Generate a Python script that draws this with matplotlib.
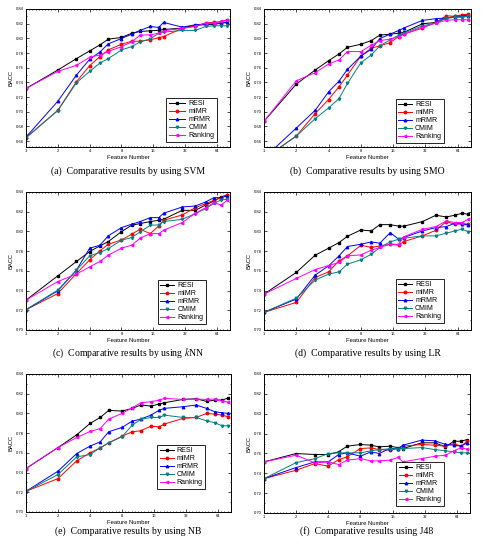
import matplotlib
matplotlib.use("Agg")
import matplotlib.pyplot as plt
import matplotlib.ticker as mticker
import numpy as np

plt.rcParams['font.family'] = ['Liberation Sans', 'DejaVu Sans']
plt.rcParams['mathtext.fontset'] = 'stix'

# number of selected features (x positions of the points)
features = [1, 2, 3, 4, 5, 6, 8, 10, 12, 15, 18, 20, 30, 40, 50, 60, 70, 80]

methods = ['RESI', 'mIMR', 'mRMR', 'CMIM', 'Ranking']

# (a) SVM
svm_resi = [0.7317, 0.7569, 0.7724, 0.7829, 0.7911, 0.7989, 0.8012, 0.8070, 0.8094, 0.8103, 0.8110, 0.8121, 0.8140, 0.8180, 0.8185, 0.8190, 0.8208, 0.8220]
svm_mimr = [0.6646, 0.7020, 0.7409, 0.7628, 0.7751, 0.7843, 0.7920, 0.7961, 0.7960, 0.7980, 0.8010, 0.8025, 0.8135, 0.8170, 0.8208, 0.8220, 0.8226, 0.8254]
svm_mrmr = [0.6655, 0.7144, 0.7500, 0.7715, 0.7815, 0.7925, 0.7998, 0.8057, 0.8108, 0.8162, 0.8149, 0.8217, 0.8153, 0.8185, 0.8194, 0.8199, 0.8208, 0.8217]
svm_cmim = [0.6646, 0.7016, 0.7395, 0.7550, 0.7664, 0.7724, 0.7843, 0.7888, 0.7952, 0.7993, 0.8070, 0.8085, 0.8108, 0.8108, 0.8162, 0.8172, 0.8172, 0.8170]
svm_rank = [0.7317, 0.7550, 0.7633, 0.7742, 0.7774, 0.7820, 0.7888, 0.7952, 0.8044, 0.8048, 0.8070, 0.8103, 0.8135, 0.8162, 0.8208, 0.8208, 0.8230, 0.8245]

# (b) SMO
smo_resi = [0.6870, 0.7377, 0.7569, 0.7696, 0.7788, 0.7879, 0.7920, 0.7970, 0.8044, 0.8057, 0.8070, 0.8080, 0.8199, 0.8217, 0.8277, 0.8300, 0.8309, 0.8322]
smo_mimr = [0.6360, 0.6670, 0.6975, 0.7167, 0.7340, 0.7500, 0.7760, 0.7866, 0.7898, 0.7943, 0.8025, 0.8057, 0.8140, 0.8217, 0.8309, 0.8300, 0.8322, 0.8327]
smo_mrmr = [0.6370, 0.6778, 0.7020, 0.7272, 0.7418, 0.7578, 0.7760, 0.7852, 0.7998, 0.8057, 0.8108, 0.8140, 0.8245, 0.8268, 0.8277, 0.8286, 0.8300, 0.8309]
smo_cmim = [0.6360, 0.6670, 0.6906, 0.7052, 0.7180, 0.7386, 0.7669, 0.7774, 0.7898, 0.7980, 0.8044, 0.8070, 0.8172, 0.8208, 0.8277, 0.8286, 0.8290, 0.8300]
smo_rank = [0.6870, 0.7422, 0.7532, 0.7651, 0.7706, 0.7820, 0.7820, 0.7907, 0.7970, 0.7989, 0.8025, 0.8057, 0.8153, 0.8208, 0.8245, 0.8254, 0.8254, 0.8254]

# (c) kNN
knn_resi = [0.7303, 0.7550, 0.7695, 0.7796, 0.7853, 0.7897, 0.7998, 0.8063, 0.8080, 0.8100, 0.8113, 0.8123, 0.8214, 0.8214, 0.8268, 0.8309, 0.8350, 0.8370]
knn_mimr = [0.7206, 0.7370, 0.7573, 0.7712, 0.7803, 0.7870, 0.7914, 0.7972, 0.8022, 0.7978, 0.8056, 0.8113, 0.8167, 0.8241, 0.8282, 0.8316, 0.8343, 0.8370]
knn_mrmr = [0.7206, 0.7398, 0.7607, 0.7830, 0.7860, 0.7955, 0.8039, 0.8073, 0.8100, 0.8140, 0.8140, 0.8184, 0.8248, 0.8258, 0.8299, 0.8343, 0.8343, 0.8360]
knn_cmim = [0.7206, 0.7405, 0.7607, 0.7752, 0.7786, 0.7826, 0.7911, 0.7938, 0.7995, 0.8063, 0.8066, 0.8100, 0.8123, 0.8181, 0.8231, 0.8285, 0.8319, 0.8326]
knn_rank = [0.7303, 0.7492, 0.7567, 0.7641, 0.7695, 0.7759, 0.7830, 0.7860, 0.7931, 0.7978, 0.7978, 0.8012, 0.8090, 0.8184, 0.8241, 0.8292, 0.8268, 0.8316]

# (d) LR
lr_resi = [0.7364, 0.7584, 0.7759, 0.7830, 0.7887, 0.7951, 0.8015, 0.8005, 0.8069, 0.8069, 0.8053, 0.8053, 0.8100, 0.8164, 0.8147, 0.8164, 0.8184, 0.8174]
lr_mimr = [0.7179, 0.7280, 0.7533, 0.7590, 0.7702, 0.7752, 0.7860, 0.7837, 0.7853, 0.7870, 0.7860, 0.7897, 0.7955, 0.8012, 0.8100, 0.8073, 0.8080, 0.8073]
lr_mrmr = [0.7179, 0.7314, 0.7557, 0.7651, 0.7752, 0.7847, 0.7870, 0.7894, 0.7880, 0.7988, 0.7921, 0.7938, 0.8005, 0.8039, 0.8049, 0.8083, 0.8073, 0.8066]
lr_cmim = [0.7179, 0.7324, 0.7506, 0.7567, 0.7590, 0.7668, 0.7712, 0.7769, 0.7837, 0.7894, 0.7921, 0.7931, 0.7955, 0.7955, 0.7982, 0.8005, 0.8022, 0.7998]
lr_rank = [0.7364, 0.7523, 0.7613, 0.7654, 0.7685, 0.7752, 0.7762, 0.7810, 0.7837, 0.7870, 0.7870, 0.7945, 0.8022, 0.8049, 0.8106, 0.8090, 0.8090, 0.8123]

# (e) NB
nb_resi = [0.7441, 0.7654, 0.7783, 0.7898, 0.7959, 0.8031, 0.8024, 0.8051, 0.8085, 0.8075, 0.8095, 0.8108, 0.8142, 0.8149, 0.8122, 0.8136, 0.8136, 0.8156]
nb_mimr = [0.7210, 0.7339, 0.7519, 0.7600, 0.7651, 0.7702, 0.7769, 0.7814, 0.7824, 0.7871, 0.7864, 0.7892, 0.7949, 0.7959, 0.8000, 0.7993, 0.7983, 0.7966]
nb_mrmr = [0.7210, 0.7414, 0.7593, 0.7668, 0.7712, 0.7814, 0.7858, 0.7922, 0.7942, 0.7983, 0.8034, 0.8051, 0.8068, 0.8085, 0.8051, 0.8017, 0.8007, 0.8000]
nb_cmim = [0.7210, 0.7380, 0.7559, 0.7583, 0.7651, 0.7702, 0.7763, 0.7881, 0.7939, 0.7959, 0.7959, 0.7983, 0.7959, 0.7959, 0.7925, 0.7905, 0.7875, 0.7875]
nb_rank = [0.7441, 0.7654, 0.7756, 0.7817, 0.7847, 0.7942, 0.8000, 0.8058, 0.8108, 0.8119, 0.8136, 0.8153, 0.8142, 0.8146, 0.8142, 0.8146, 0.8125, 0.8115]

# (f) J48
j48_resi = [0.7515, 0.7599, 0.7589, 0.7589, 0.7616, 0.7673, 0.7690, 0.7683, 0.7666, 0.7673, 0.7659, 0.7649, 0.7707, 0.7707, 0.7666, 0.7723, 0.7723, 0.7740]
j48_mimr = [0.7346, 0.7431, 0.7498, 0.7471, 0.7538, 0.7565, 0.7649, 0.7656, 0.7639, 0.7633, 0.7649, 0.7673, 0.7690, 0.7683, 0.7673, 0.7700, 0.7673, 0.7723]
j48_mrmr = [0.7346, 0.7458, 0.7515, 0.7515, 0.7589, 0.7606, 0.7572, 0.7616, 0.7599, 0.7649, 0.7649, 0.7683, 0.7734, 0.7727, 0.7690, 0.7683, 0.7673, 0.7707]
j48_cmim = [0.7346, 0.7508, 0.7548, 0.7599, 0.7606, 0.7606, 0.7606, 0.7626, 0.7639, 0.7646, 0.7649, 0.7649, 0.7659, 0.7639, 0.7626, 0.7616, 0.7606, 0.7606]
j48_rank = [0.7515, 0.7582, 0.7505, 0.7515, 0.7488, 0.7532, 0.7548, 0.7525, 0.7525, 0.7532, 0.7559, 0.7515, 0.7548, 0.7572, 0.7582, 0.7626, 0.7656, 0.7643]

colors = ['#000000', '#ff0000', '#0000ff', '#008080', '#ff00ff']
markers = ['s', 'o', '^', 'v', '<']

panels = [
    ('(a)  Comparative results by using SVM', [svm_resi, svm_mimr, svm_mrmr, svm_cmim, svm_rank], (0.652, 0.84), 0.941, 0.029),
    ('(b)  Comparative results by using SMO', [smo_resi, smo_mimr, smo_mrmr, smo_cmim, smo_rank], (0.652, 0.84), 0.874, 0.022),
    ('(c)  Comparative results by using $k$NN', [knn_resi, knn_mimr, knn_mrmr, knn_cmim, knn_rank], (0.70, 0.84), 0.887, 0.036),
    ('(d)  Comparative results by using LR', [lr_resi, lr_mimr, lr_mrmr, lr_cmim, lr_rank], (0.70, 0.84), 0.874, 0.043),
    ('(e)  Comparative results by using NB', [nb_resi, nb_mimr, nb_mrmr, nb_cmim, nb_rank], (0.70, 0.84), 0.879, 0.16),
    ('(f)  Comparative results using J48', [j48_resi, j48_mimr, j48_mrmr, j48_cmim, j48_rank], (0.70, 0.84), 0.879, 0.043),
]

W, H = 482, 546
fig = plt.figure(figsize=(W / 100, H / 100), dpi=100)

# axes boxes in pixels: left, right, top, bottom
boxes = [(26, 230, 9, 147), (264, 471, 9, 147),
         (26, 230, 192, 330), (264, 471, 192, 330),
         (26, 231, 374, 512), (264, 470, 374, 513)]
caption_y = [171, 171, 353, 353, 531, 531]

for i, (caption, series, ylim, lx, ly) in enumerate(panels):
    l, r, t, b = boxes[i]
    ax = fig.add_axes([l / W, 1 - b / H, (r - l) / W, (b - t) / H])
    for vals, name, c, m in zip(series, methods, colors, markers):
        ax.plot(features, vals, color=c, marker=m, markersize=1.8, linewidth=0.7,
                label=name)
    ax.set_xscale('log', base=2)
    ax.set_xlim(1, 85)
    ax.set_ylim(*ylim)
    ax.xaxis.set_major_locator(mticker.FixedLocator([1, 2, 4, 8, 16, 32, 64]))
    ax.xaxis.set_major_formatter(mticker.FixedFormatter(['1', '2', '4', '8', '16', '32', '64']))
    minor = [2 ** v for v in np.arange(0, 6.45, 0.1) if abs(v - round(v)) > 0.01]
    ax.xaxis.set_minor_locator(mticker.FixedLocator(minor))
    ax.xaxis.set_minor_formatter(mticker.NullFormatter())
    ax.yaxis.set_major_locator(mticker.MultipleLocator(0.02))
    ax.yaxis.set_minor_locator(mticker.MultipleLocator(0.01))
    ax.yaxis.set_major_formatter(mticker.FormatStrFormatter('%.2f'))
    ax.tick_params(which='both', direction='in', top=True, right=True,
                   labelsize=3, width=0.5, pad=1.5)
    ax.tick_params(which='major', length=2)
    ax.tick_params(which='minor', length=1)
    for sp in ax.spines.values():
        sp.set_linewidth(0.7)
    ax.set_xlabel('Feature Number', fontsize=4.2, labelpad=1.5)
    ax.set_ylabel('BACC', fontsize=4.2, labelpad=2)
    ax.legend(loc='lower right', bbox_to_anchor=(lx, ly), fontsize=5,
              frameon=True, fancybox=False, edgecolor='black', framealpha=1,
              handlelength=2.4 if i == 0 else 2.0, labelspacing=0.15,
              borderpad=0.35, handletextpad=0.4, borderaxespad=0.2).get_frame().set_linewidth(0.6)
    fig.text((l + r) / 2 / W, 1 - caption_y[i] / H, caption, ha='center', va='center',
             fontsize=7, family=['Liberation Serif', 'DejaVu Serif'])

fig.savefig('out.png', dpi=100)
